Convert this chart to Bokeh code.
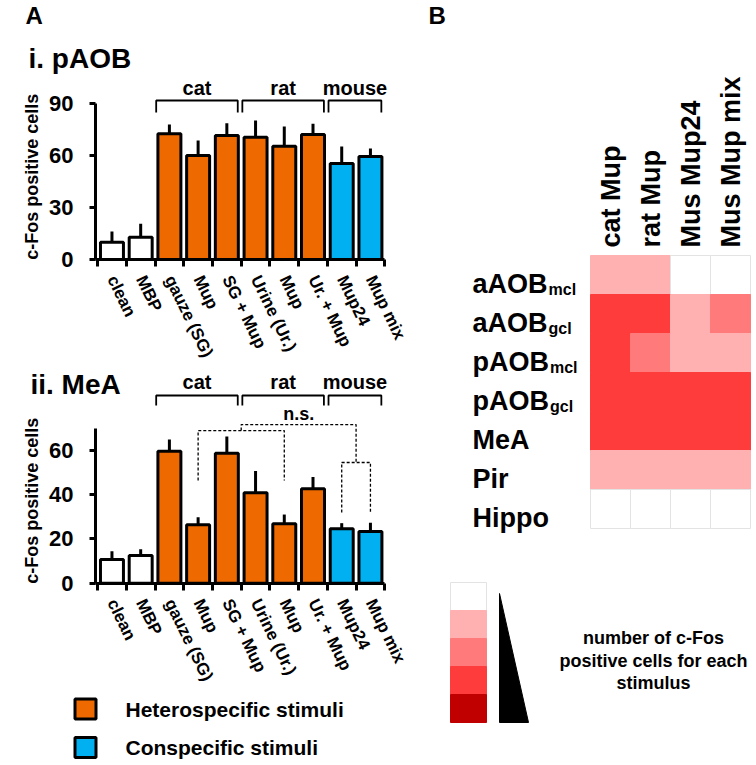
import math
from bokeh.plotting import figure
from bokeh.layouts import row, column
from bokeh.models import FixedTicker, CustomJSTickFormatter, Range1d, ColumnDataSource
from bokeh.core.properties import value
from bokeh.embed import file_html
from bokeh.resources import INLINE

FONT = "Liberation Sans"

# ---------------- data ----------------
stimuli = ["clean", "MBP", "gauze (SG)", "Mup", "SG + Mup", "Urine (Ur.)", "Mup", "Ur. + Mup", "Mup24", "Mup mix"]
stim_type = ["control", "control", "hetero", "hetero", "hetero", "hetero", "hetero", "hetero", "con", "con"]

paob_mean = [10.0, 12.9, 72.7, 60.1, 71.7, 70.7, 65.5, 72.3, 55.5, 59.5]
paob_sem = [6.2, 7.7, 5.3, 8.7, 7.1, 9.6, 11.4, 6.1, 9.8, 4.7]
paob_yticks = [0, 30, 60, 90]

mea_mean = [10.7, 12.5, 59.6, 26.4, 58.7, 40.8, 26.8, 42.6, 24.6, 23.3]
mea_sem = [3.7, 2.8, 5.3, 3.4, 7.5, 9.8, 4.2, 5.4, 2.5, 4.0]
mea_yticks = [0, 20, 40, 60]

y_title = "c-Fos positive cells"

species = ["cat", "rat", "mouse"]
species_first = [2, 5, 8]
species_last = [4, 7, 9]

legend_labels = ["Heterospecific stimuli", "Conspecific stimuli"]

hm_regions = ["aAOB", "aAOB", "pAOB", "pAOB", "MeA", "Pir", "Hippo"]
hm_subs = ["mcl", "gcl", "mcl", "gcl", "", "", ""]
hm_stimuli = ["cat Mup", "rat Mup", "Mus Mup24", "Mus Mup mix"]
hm_levels = [
    [1, 1, 0, 0],
    [3, 3, 1, 2],
    [3, 2, 1, 1],
    [3, 3, 3, 3],
    [3, 3, 3, 3],
    [1, 1, 1, 1],
    [0, 0, 0, 0],
]
ramp_levels = [0, 1, 2, 3, 4]
ramp_text = ["number of c-Fos", "positive cells for each", "stimulus"]

# ---------------- style ----------------
COLORS = {"control": "#FFFFFF", "hetero": "#EE6A00", "con": "#00B0F0"}
LEVEL_COLORS = ["#FFFFFF", "#FFB0B0", "#FF7A7A", "#FF3C3C", "#C00000"]
GRID_GREY = "#E3E3E3"

LEFT_W = 448
X0_PX = 97.1      # page x of category boundary 0
CAT_PX = 28.72    # pixels per category
AXIS_X = -0.073   # y axis position (data x)


def px_to_x(px):
    return (px - X0_PX) / CAT_PX


def bar_chart(height, page_top, zero_px, ppu, yticks, y_bound, means, sems):
    # the frame spans the whole canvas; axes are pinned at fixed data locations
    xr = Range1d((0 - X0_PX) / CAT_PX, (LEFT_W - X0_PX) / CAT_PX)
    yr = Range1d((zero_px - (page_top + height)) / ppu, (zero_px - page_top) / ppu)
    p = figure(width=LEFT_W, height=height, output_backend="svg", toolbar_location=None,
               x_range=xr, y_range=yr, min_border=0)
    p.outline_line_color = None
    p.grid.visible = False
    n = len(means)
    xs = [i + 0.5 for i in range(n)]
    src = ColumnDataSource(dict(x=xs, top=means, err=[m + s for m, s in zip(means, sems)],
                                color=[COLORS[t] for t in stim_type]))
    p.segment(x0="x", y0="top", x1="x", y1="err", source=src, line_color="black", line_width=3)
    p.vbar(x="x", top="top", bottom=0, width=0.8, source=src, fill_color="color",
           line_color="black", line_width=3)

    ya = p.yaxis[0]
    ya.fixed_location = AXIS_X
    ya.ticker = FixedTicker(ticks=yticks)
    ya.bounds = (0, y_bound)
    ya.axis_line_width = 3
    ya.major_tick_line_width = 3
    ya.major_tick_out = 6
    ya.major_tick_in = 0
    ya.minor_tick_line_color = None
    ya.major_label_text_font = FONT
    ya.major_label_text_font_style = "bold"
    ya.major_label_text_font_size = "22px"
    ya.major_label_text_color = "black"
    ya.major_label_standoff = 16

    # y-axis title, centred along the axis
    p.text(x=[px_to_x(31)], y=[y_bound / 2 + 5 / ppu], text=[y_title], angle=math.pi / 2,
           text_font=value(FONT), text_font_style="bold", text_font_size="18px",
           text_align="center", text_baseline="middle", text_color="black")

    xa = p.xaxis[0]
    xa.fixed_location = 0
    xa.bounds = (AXIS_X, n)
    xa.ticker = FixedTicker(ticks=xs, minor_ticks=list(range(n + 1)))
    xa.formatter = CustomJSTickFormatter(args=dict(labels=stimuli),
                                         code="return labels[Math.round(tick - 0.5)];")
    xa.axis_line_width = 3
    xa.major_tick_out = 0
    xa.major_tick_in = 0
    xa.minor_tick_out = 7
    xa.minor_tick_in = 0
    xa.minor_tick_line_width = 3
    xa.major_label_orientation = -math.radians(64)
    xa.major_label_standoff = 10
    xa.major_label_text_font = FONT
    xa.major_label_text_font_style = "bold"
    xa.major_label_text_font_size = "17px"
    xa.major_label_text_color = "black"
    return p


def species_brackets(p, top, drop, text_y):
    for name, a, b in zip(species, species_first, species_last):
        x0 = a + 0.04
        x1 = b + 1 - 0.12
        p.line([x0, x0, x1, x1], [drop, top, top, drop], line_color="black", line_width=1.8)
        p.text(x=[(x0 + x1) / 2], y=[text_y], text=[name], text_font=value(FONT),
               text_font_style="bold", text_font_size="20px", text_align="center",
               text_baseline="middle", text_color="black")


def add_text(p, x, y, text, size):
    p.text(x=[x], y=[y], text=[text], text_font=value(FONT), text_font_style="bold",
           text_font_size=size, text_align="left", text_baseline="middle", text_color="black")


# ---------------- A.i pAOB ----------------
Z1, U1 = 259.0, 1.73
p1 = bar_chart(365, 0, Z1, U1, paob_yticks, 90, paob_mean, paob_sem)
species_brackets(p1, (Z1 - 100) / U1, (Z1 - 112) / U1, (Z1 - 87) / U1)
add_text(p1, px_to_x(25), (Z1 - 15) / U1, "A", "24px")
add_text(p1, px_to_x(28), (Z1 - 57.5) / U1, "i. pAOB", "28px")
add_text(p1, px_to_x(428), (Z1 - 15) / U1, "B", "24px")

# ---------------- A.ii MeA ----------------
Z2, U2 = 582.7, 2.215
p2 = bar_chart(325, 365, Z2, U2, mea_yticks, 70, mea_mean, mea_sem)
species_brackets(p2, (Z2 - 395) / U2, (Z2 - 405) / U2, (Z2 - 381) / U2)
add_text(p2, px_to_x(30), (Z2 - 384) / U2, "ii. MeA", "28px")
# n.s. comparison (dashed)
dash = dict(line_color="black", line_width=1.3, line_dash="3 2")
p2.line([5.0, 5.0, 9.0, 9.0], [68.9, 71.6, 71.6, 54.5], **dash)
p2.line([3.5, 3.5, 6.5, 6.5], [46.4, 68.9, 68.9, 46.4], **dash)
p2.line([8.5, 8.5, 9.5, 9.5], [31.9, 54.5, 54.5, 31.9], **dash)
p2.text(x=[7.0], y=[76.6], text=["n.s."], text_font=value(FONT), text_font_style="bold",
        text_font_size="18px", text_align="center", text_baseline="middle", text_color="black")

# ---------------- legend ----------------
p3 = figure(width=LEFT_W, height=75, output_backend="svg", toolbar_location=None,
            x_range=Range1d(0, LEFT_W), y_range=Range1d(765, 690),
            min_border=0, x_axis_type=None, y_axis_type=None)
p3.outline_line_color = None
p3.grid.visible = False
p3.rect(x=[85, 85], y=[708.5, 747], width=21, height=20,
        fill_color=[COLORS["hetero"], COLORS["con"]], line_color="black", line_width=3)
p3.text(x=[125, 125], y=[709, 747], text=legend_labels, text_font=value(FONT),
        text_font_style="bold", text_font_size="21px", text_baseline="middle", text_color="black")

# ---------------- B heatmap ----------------
def hx(px):
    return (px - 590) / 40.0


def hy(py):
    return (py - 255) / 39.0


p4 = figure(width=756 - LEFT_W, height=765, output_backend="svg", toolbar_location=None,
            x_range=Range1d(hx(LEFT_W), hx(756)), y_range=Range1d(hy(765), hy(0)),
            min_border=0, x_axis_type=None, y_axis_type=None)
p4.outline_line_color = None
p4.grid.visible = False

cx, cy, cfill, cline = [], [], [], []
for r, levels in enumerate(hm_levels):
    for c, lev in enumerate(levels):
        cx.append(c + 0.5)
        cy.append(r + 0.5)
        cfill.append(LEVEL_COLORS[lev])
        cline.append(GRID_GREY if lev == 0 else LEVEL_COLORS[lev])
p4.rect(x=cx, y=cy, width=1, height=1, fill_color=cfill, line_color=cline, line_width=1)

# row labels with subscripts
label_x = hx(472)
p4.text(x=[label_x] * len(hm_regions), y=[r + 0.5 + 9 / 39 for r in range(len(hm_regions))],
        text=hm_regions, text_font=value(FONT), text_font_style="bold", text_font_size="27px",
        text_baseline="alphabetic", text_color="black")
sub_x, sub_y, sub_t = [], [], []
glyph_w = {"a": 0.556, "p": 0.611, "A": 0.722, "O": 0.778, "B": 0.722}
for r, (reg, sub) in enumerate(zip(hm_regions, hm_subs)):
    if sub:
        width_px = sum(glyph_w[ch] for ch in reg) * 27
        sub_x.append(label_x + (width_px + 1) / 40.0)
        sub_y.append(r + 0.5 + 14 / 39)
        sub_t.append(sub)
p4.text(x=sub_x, y=sub_y, text=sub_t, text_font=value(FONT), text_font_style="bold",
        text_font_size="16px", text_baseline="alphabetic", text_color="black")

# column labels (vertical)
p4.text(x=[c + 0.5 for c in range(len(hm_stimuli))], y=[hy(247)] * len(hm_stimuli),
        text=hm_stimuli, angle=math.pi / 2, text_font=value(FONT), text_font_style="bold",
        text_font_size="27px", text_align="left", text_baseline="middle", text_color="black")

# colour ramp legend
box_h = 28 / 39.0
ramp_y = [hy(582) + box_h * (k + 0.5) for k in range(len(ramp_levels))]
p4.rect(x=[hx(468)] * len(ramp_levels), y=ramp_y, width=36 / 40.0, height=box_h,
        fill_color=[LEVEL_COLORS[k] for k in ramp_levels],
        line_color=[GRID_GREY if k == 0 else LEVEL_COLORS[k] for k in ramp_levels], line_width=1)
p4.patch(x=[hx(499), hx(499), hx(528)], y=[hy(593), hy(722), hy(722)], fill_color="black",
         line_color="black")
p4.text(x=[hx(653)] * 3, y=[hy(637), hy(660), hy(682)], text=ramp_text, text_font=value(FONT),
        text_font_style="bold", text_font_size="18px", text_align="center",
        text_baseline="middle", text_color="black")

layout = row(column(p1, p2, p3, spacing=0), p4, spacing=0)
open("out.html", "w").write(file_html(layout, INLINE))
